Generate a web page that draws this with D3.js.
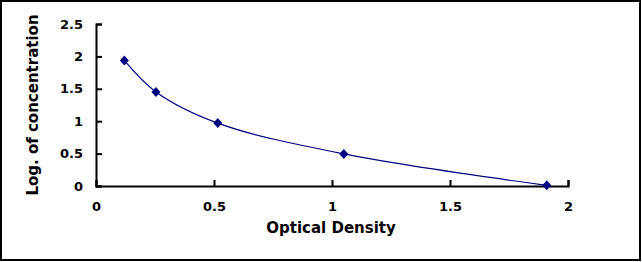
<!DOCTYPE html>
<html>
<head>
<meta charset="utf-8">
<script src="https://cdn.jsdelivr.net/npm/d3@7"></script>
<style>
  body { margin: 0; background: #fff; }
  text { font-family: "DejaVu Sans", Arial, sans-serif; font-weight: bold; }
</style>
</head>
<body>
<div id="chart"></div>
<script>
// standard curve points
var od = [0.12, 0.254, 0.516, 1.05, 1.91];
var logConc = [1.937, 1.452, 0.971, 0.495, 0.01];
var xTicks = [0, 0.5, 1, 1.5, 2];
var yTicks = [0, 0.5, 1, 1.5, 2, 2.5];

var W = 642, H = 262;

var svg = d3.select('#chart')
	.append('svg')
		.attr('width', W)
		.attr('height', H);

// outer frame
svg.append('rect')
	.attr('x', 1).attr('y', 1)
	.attr('width', W - 3).attr('height', H - 3)
	.attr('fill', '#fff')
	.attr('stroke', '#000')
	.attr('stroke-width', 2);

var x = d3.scaleLinear().domain([0, 2]).range([96, 568]);
var y = d3.scaleLinear().domain([0, 2.5]).range([186, 24]);

// x axis, ticks pointing up into the plot
var xAxis = svg.append('g')
	.attr('transform', 'translate(0,' + y(0) + ')')
	.call(d3.axisBottom(x).tickValues(xTicks).tickSize(-6).tickPadding(16)
		.tickFormat(function(d){ return d; }));
xAxis.select('.domain').attr('stroke-width', 2);
xAxis.selectAll('.tick line').attr('stroke-width', 2);
xAxis.selectAll('text').style('font-size', '13px').attr('fill', '#000');

// y axis, ticks pointing right into the plot
var yAxis = svg.append('g')
	.attr('transform', 'translate(' + x(0) + ',0)')
	.call(d3.axisLeft(y).tickValues(yTicks).tickSize(-6).tickPadding(13)
		.tickFormat(function(d){ return d; }));
yAxis.select('.domain').attr('stroke-width', 2);
yAxis.selectAll('.tick line').attr('stroke-width', 2);
yAxis.selectAll('text').style('font-size', '13px').attr('fill', '#000');

// axis titles
svg.append('text')
	.attr('x', 331).attr('y', 233)
	.attr('text-anchor', 'middle')
	.style('font-size', '15px')
	.text('Optical Density');

svg.append('text')
	.attr('transform', 'translate(38,105) rotate(-90)')
	.attr('text-anchor', 'middle')
	.style('font-size', '15px')
	.text('Log. of concentration');

// fitted curve
var pts = od.map(function(d, i){ return [d, logConc[i]]; });
var line = d3.line()
	.x(function(d){ return x(d[0]); })
	.y(function(d){ return y(d[1]); })
	.curve(d3.curveCatmullRom);

svg.append('path')
	.datum(pts)
	.attr('d', line)
	.attr('fill', 'none')
	.attr('stroke', '#000080')
	.attr('stroke-width', 1.2);

// diamond markers
svg.selectAll('.pt')
	.data(pts)
	.enter().append('path')
		.attr('class', 'pt')
		.attr('transform', function(d){ return 'translate(' + x(d[0]) + ',' + y(d[1]) + ')'; })
		.attr('d', 'M0,-5L4.5,0L0,5L-4.5,0Z')
		.attr('fill', '#000080');
</script>
</body>
</html>
